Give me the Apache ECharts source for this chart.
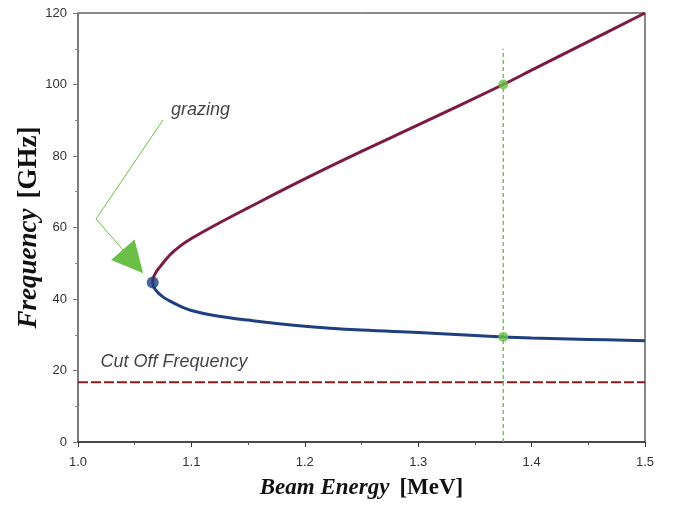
<!DOCTYPE html>
<html>
<head>
<meta charset="utf-8">
<script src="https://cdn.jsdelivr.net/npm/echarts@6/dist/echarts.min.js"></script>
<style>
  html, body { margin: 0; padding: 0; background: #ffffff; }
  #chart { width: 678px; height: 506px; }
</style>
</head>
<body>
<div id="chart"></div>
<script>
// upper branch (red)
const upperEnergy = [1.0659, 1.0665, 1.069, 1.0723, 1.081, 1.09, 1.1, 1.12, 1.15, 1.2, 1.25, 1.3, 1.375, 1.4, 1.45, 1.5];
const upperFreq   = [44.6, 46.0, 47.6, 49.0, 52.3, 54.8, 56.9, 60.5, 65.5, 73.6, 81.3, 88.7, 100, 104, 112, 120];
// lower branch (blue)
const lowerEnergy = [1.0659, 1.0665, 1.069, 1.074, 1.08, 1.09, 1.1, 1.12, 1.15, 1.2, 1.25, 1.3, 1.375, 1.4, 1.45, 1.5];
const lowerFreq   = [44.6, 43.6, 42.3, 40.8, 39.6, 38.0, 36.8, 35.4, 34.1, 32.4, 31.3, 30.6, 29.4, 29.1, 28.7, 28.3];
// cut off frequency
const cutOffFreq = 16.7;
const energyRange = [1.0, 1.5];
// operating point
const opEnergy = 1.375;
const opFreqs = [100, 29.4];
const opLineTop = 110;
// grazing point
const grazing = [1.0659, 44.6];
// arrow path (energy, freq)
const arrowTail = [1.075, 90.1];
const arrowCorner = [1.0159, 62.4];
const arrowHead = [1.0485, 50.5];
// text labels
const grazingText = [1.108, 92.9];
const cutOffText = [1.0194, 22.4];

const zip = (xs, ys) => xs.map((x, i) => [x, ys[i]]);

const chart = echarts.init(document.getElementById('chart'));

const sans = 'Liberation Sans';
const serif = 'Liberation Serif';
const green = '#6bbf47';

chart.setOption({
  animation: false,
  grid: {
    left: 78, right: 33, top: 13, bottom: 64,
    show: true, borderColor: '#111', borderWidth: 1
  },
  xAxis: {
    type: 'value',
    min: 1.0, max: 1.5, interval: 0.1,
    name: '{i|Beam Energy}   {b|[MeV]}',
    nameLocation: 'middle',
    nameGap: 35,
    nameMoveOverlap: false,
    nameTextStyle: {
      rich: {
        i: { fontFamily: serif, fontStyle: 'italic', fontWeight: 'bold', fontSize: 23, color: '#111' },
        b: { fontFamily: serif, fontWeight: 'bold', fontSize: 23, color: '#111' }
      }
    },
    axisLine: { lineStyle: { color: '#333', width: 1.5 } },
    axisTick: { length: 5, lineStyle: { color: '#333' } },
    minorTick: { show: true, splitNumber: 2, length: 3, lineStyle: { color: '#555' } },
    splitLine: { show: false },
    axisLabel: {
      fontFamily: sans, fontSize: 13, color: '#333', margin: 14,
      formatter: v => v.toFixed(1)
    }
  },
  yAxis: [{
    type: 'value',
    min: 0, max: 120, interval: 20,
    name: '{i|Frequency}   {b|[GHz]}',
    nameLocation: 'middle',
    nameGap: 35,
    nameMoveOverlap: false,
    nameTextStyle: {
      rich: {
        i: { fontFamily: serif, fontStyle: 'italic', fontWeight: 'bold', fontSize: 27, color: '#111' },
        b: { fontFamily: serif, fontWeight: 'bold', fontSize: 27, color: '#111' }
      }
    },
    axisLine: { show: true, lineStyle: { color: '#777', width: 1.5 } },
    axisTick: { show: true, length: 5, lineStyle: { color: '#777' } },
    minorTick: { show: true, splitNumber: 2, length: 3, lineStyle: { color: '#888' } },
    splitLine: { show: false },
    axisLabel: { fontFamily: sans, fontSize: 13, color: '#333', margin: 11 }
  }, {
    type: 'value',
    position: 'right',
    min: 0, max: 120, interval: 20,
    axisLine: { show: true, lineStyle: { color: '#888', width: 1.5 } },
    axisTick: { show: false },
    axisLabel: { show: false },
    splitLine: { show: false }
  }],
  series: [
    {
      type: 'line',
      data: [[energyRange[0], cutOffFreq], [energyRange[1], cutOffFreq]],
      showSymbol: false,
      lineStyle: { color: '#8b1c1c', width: 2, type: [10, 3] },
      z: 2
    },
    {
      type: 'line',
      data: [[opEnergy, 0], [opEnergy, opLineTop]],
      showSymbol: false,
      lineStyle: { color: '#6cc24a', width: 1.4, type: [4, 3] },
      z: 2
    },
    {
      type: 'line',
      data: zip(upperEnergy, upperFreq),
      showSymbol: false,
      smooth: 0.4,
      lineStyle: { color: '#7b1a45', width: 3 },
      z: 3
    },
    {
      type: 'line',
      data: zip(lowerEnergy, lowerFreq),
      showSymbol: false,
      smooth: 0.4,
      lineStyle: { color: '#1f3f7e', width: 3 },
      z: 3
    },
    {
      type: 'scatter',
      data: opFreqs.map(f => [opEnergy, f]),
      symbolSize: 10,
      itemStyle: { color: green },
      z: 4
    },
    {
      type: 'scatter',
      data: [grazing],
      symbolSize: 12,
      itemStyle: { color: '#1f3f7e' },
      z: 4
    },
    {
      type: 'lines',
      coordinateSystem: 'cartesian2d',
      data: [{ coords: [arrowTail, arrowCorner] }],
      lineStyle: { color: green, width: 1, opacity: 1 },
      symbol: ['none', 'none'],
      z: 4
    },
    {
      type: 'lines',
      coordinateSystem: 'cartesian2d',
      data: [{ coords: [arrowCorner, arrowHead] }],
      lineStyle: { color: green, width: 1, opacity: 1 },
      symbol: ['none', 'triangle'],
      symbolSize: [16, 31],
      z: 4
    },
    {
      type: 'scatter',
      data: [
        { value: grazingText, label: { formatter: 'grazing', position: 'inside' } },
        { value: cutOffText, label: { formatter: 'Cut Off Frequency', position: 'right', distance: 0 } }
      ],
      symbolSize: 1,
      itemStyle: { color: 'transparent' },
      label: {
        show: true,
        fontFamily: sans, fontStyle: 'italic', fontSize: 18, color: '#111'
      },
      z: 5
    }
  ]
});
</script>
</body>
</html>
